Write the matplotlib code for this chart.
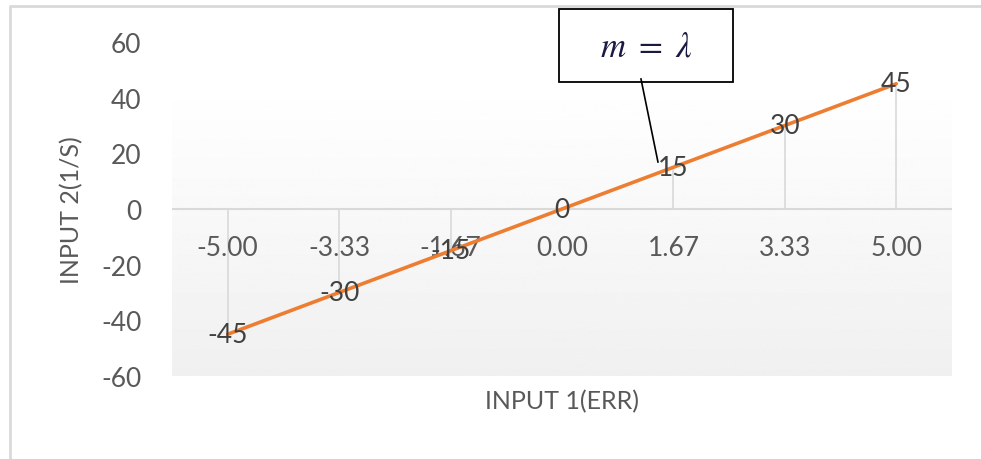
import numpy as np
import matplotlib
matplotlib.use("Agg")
import matplotlib.pyplot as plt
from matplotlib.patches import Rectangle
from matplotlib.lines import Line2D

# Datos
x_labels = ["-5.00", "-3.33", "-1.67", "0.00", "1.67", "3.33", "5.00"]
y_values = [-45, -30, -15, 0, 15, 30, 45]
y_ticks = [-60, -40, -20, 0, 20, 40, 60]

plt.rcParams['font.family'] = ['Lato', 'DejaVu Sans']
plt.rcParams['mathtext.fontset'] = 'stix'

gray_txt = '#595959'
grid_col = '#d9d9d9'
orange = '#ED7D31'

fig = plt.figure(figsize=(9.81, 4.6), dpi=100)
ax = fig.add_axes([0.1753, 0.1804, 0.7951, 0.7261])

x = np.arange(len(x_labels))

# sfondo con gradiente
grad = np.linspace(0.94, 1.0, 256).reshape(-1, 1)
ax.imshow(grad, extent=[0, 1, 0, 0.88], transform=ax.transAxes, cmap='gray',
          vmin=0, vmax=1, aspect='auto', origin='lower', zorder=0)

ax.set_xlim(-0.5, len(x_labels) - 0.5)
ax.set_ylim(-60, 60)

ax.axhline(0, color=grid_col, lw=1.5, zorder=1)
ax.vlines(x, 0, y_values, color=grid_col, lw=1.2, zorder=1)
ax.plot(x, y_values, color=orange, lw=2.6, zorder=3, solid_capstyle='round')

for xi, lbl in zip(x, x_labels):
    ax.annotate(lbl, (xi, 0), xytext=(0, -28), textcoords='offset points',
                ha='center', va='center', fontsize=19, color=gray_txt, zorder=2)

for xi, yi in zip(x, y_values):
    ax.text(xi, yi, str(yi), ha='center', va='center', fontsize=19,
            color='#404040', zorder=4)

ax.set_yticks(y_ticks)
ax.set_yticklabels([str(t) for t in y_ticks], fontsize=19, color=gray_txt)
ax.set_xticks([])
ax.tick_params(axis='y', length=0, pad=22)
for s in ax.spines.values():
    s.set_visible(False)

fig.text(0.0734, 0.5435, 'INPUT 2(1/S)', rotation=90, ha='center', va='center',
         fontsize=18, color=gray_txt)
fig.text(0.5729, 0.126, 'INPUT 1(ERR)', ha='center', va='center',
         fontsize=18, color=gray_txt)

# riquadro di annotazione
fig.patches.append(Rectangle((0.5698, 0.8196), 0.1774, 0.1587, transform=fig.transFigure,
                             facecolor='white', edgecolor='black', lw=1.3, zorder=5))
fig.text(0.6585, 0.898, r'$m\ =\ \lambda$', ha='center', va='center', fontsize=25,
         color='#1a1a40', zorder=6)
fig.lines.append(Line2D([0.6534, 0.6707], [0.8261, 0.6457], transform=fig.transFigure,
                        color='black', lw=1.2, zorder=6))

# bordo del grafico
fig.lines.append(Line2D([0.0102, 0.0102, 1.0], [0.0, 0.9848, 0.9848],
                        transform=fig.transFigure, color=grid_col, lw=2))

fig.savefig('out.png', dpi=100)
